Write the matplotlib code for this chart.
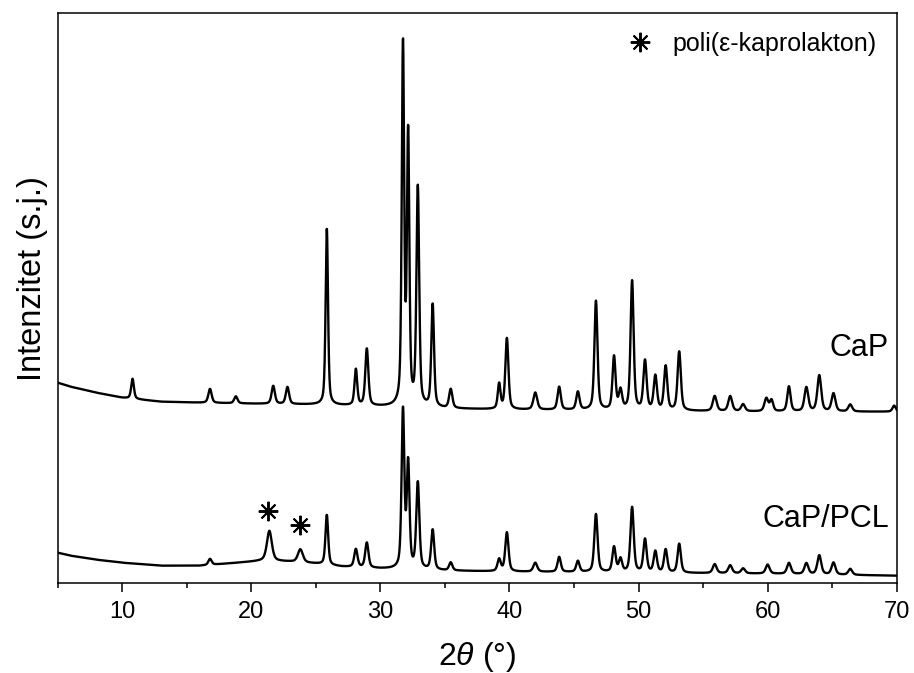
import numpy as np
import matplotlib.pyplot as plt
from matplotlib.lines import Line2D

plt.rcParams['font.family'] = ['Liberation Sans', 'DejaVu Sans']
plt.rcParams['mathtext.fontset'] = 'custom'
plt.rcParams['mathtext.rm'] = 'Liberation Sans'
plt.rcParams['mathtext.it'] = 'Liberation Sans:italic'

# --- data (intensity in arbitrary units) ---
# CaP: background points and peak list (position, height above background, FWHM)
cap_bg_x = [5, 6, 8, 10, 13, 16, 20, 25, 30, 35, 40, 50, 60, 70]
cap_bg_y = [200, 196, 190, 185, 181, 180, 179, 178, 176, 174, 173, 172, 171, 171]
cap_pos = [10.8, 16.8, 18.8, 21.7, 22.8, 25.85, 28.1, 28.95, 31.75, 32.15,
           32.9, 34.05, 35.45, 39.2, 39.8, 42.0, 43.85, 45.3, 46.7, 48.1,
           48.6, 49.5, 50.5, 51.3, 52.1, 53.15, 55.9, 57.1, 58.1, 59.9,
           60.3, 61.65, 63.0, 64.0, 65.1, 66.4, 69.8]
cap_h = [20, 14, 7, 18, 17, 177, 36, 57, 360, 268,
         218, 103, 19, 25, 71, 17, 23, 18, 109, 53,
         19, 129, 49, 34, 44, 59, 15, 15, 7, 13,
         11, 25, 24, 36, 18, 7, 6]
cap_w = [0.25, 0.3, 0.3, 0.3, 0.3, 0.22, 0.25, 0.28, 0.22, 0.22,
         0.25, 0.25, 0.3, 0.25, 0.28, 0.35, 0.3, 0.3, 0.28, 0.28,
         0.3, 0.28, 0.3, 0.3, 0.3, 0.3, 0.35, 0.35, 0.35, 0.35,
         0.3, 0.3, 0.35, 0.35, 0.35, 0.35, 0.3]

# CaP/PCL
pcl_bg_x = [5, 6, 8, 10, 13, 16, 19, 21, 23, 25, 27, 30, 35, 40, 50, 60, 70]
pcl_bg_y = [30, 27, 23, 20, 17, 17, 20, 22, 21, 19, 16, 14, 12, 11, 10, 9, 7]
pcl_pos = [16.8, 21.4, 23.8, 25.85, 28.1, 28.95, 31.75, 32.15, 32.9, 34.05,
           35.45, 39.2, 39.8, 42.0, 43.85, 45.3, 46.7, 48.1, 48.6, 49.5,
           50.5, 51.3, 52.1, 53.15, 55.9, 57.1, 58.1, 60.0, 61.65, 63.0,
           64.0, 65.1, 66.4]
pcl_h = [6, 30, 13, 50, 18, 25, 158, 104, 86, 40,
         8, 12, 39, 9, 15, 11, 58, 25, 13, 65,
         33, 21, 23, 29, 9, 8, 5, 9, 11, 11,
         19, 12, 6]
pcl_w = [0.3, 0.45, 0.45, 0.25, 0.3, 0.3, 0.25, 0.25, 0.28, 0.28,
         0.3, 0.3, 0.3, 0.35, 0.3, 0.3, 0.3, 0.3, 0.3, 0.3,
         0.3, 0.3, 0.3, 0.3, 0.35, 0.35, 0.35, 0.35, 0.35, 0.35,
         0.35, 0.35, 0.35]

# PCL reflections marked with asterisks
pcl_star_pos = [21.3, 23.8]


def pattern(x, bg_x, bg_y, pos, height, fwhm):
    y = np.interp(x, bg_x, bg_y)
    for p, h, w in zip(pos, height, fwhm):
        d = (x - p) / (w / 2)
        y = y + h * (0.5 / (1 + d**2) + 0.5 * np.exp(-np.log(2) * d**2))
    return y


two_theta = np.arange(5, 70.001, 0.02)
cap = pattern(two_theta, cap_bg_x, cap_bg_y, cap_pos, cap_h, cap_w)
cap_pcl = pattern(two_theta, pcl_bg_x, pcl_bg_y, pcl_pos, pcl_h, pcl_w)

fig = plt.figure(figsize=(9.14, 6.73), dpi=100)
ax = fig.add_axes([0.0631, 0.1342, 0.9180, 0.8469])

ax.plot(two_theta, cap, color='black', lw=1.7)
ax.plot(two_theta, cap_pcl, color='black', lw=1.7)

star = (8, 2, 0)
star_y = np.interp(pcl_star_pos, two_theta, cap_pcl) + 24
ax.plot(pcl_star_pos, star_y, ls='none', marker=star, ms=14, mew=1.4, color='black')

ax.text(69.4, 235, 'CaP', ha='right', va='center', fontsize=22)
ax.text(69.4, 64, 'CaP/PCL', ha='right', va='center', fontsize=22)

h = [Line2D([], [], ls='none', marker=star, ms=14, mew=1.4, color='black')]
ax.legend(h, ['poli(ε-kaprolakton)'], loc='upper right', bbox_to_anchor=(0.9765, 0.966),
          frameon=False, fontsize=18, borderpad=0, borderaxespad=0, handletextpad=0.8,
          handlelength=1.0)

ax.set_xlim(5, 70)
ax.set_ylim(0, 570)
ax.set_yticks([])
ax.set_xticks(range(10, 71, 10))
ax.set_xticks(range(5, 71, 10), minor=True)
ax.tick_params(axis='x', which='major', direction='out', length=6.5, width=1.1,
               labelsize=17, pad=7)
ax.tick_params(axis='x', which='minor', direction='out', length=3.5, width=1.1)
for s in ax.spines.values():
    s.set_linewidth(1.1)

ax.set_xlabel(r'2$\theta$ (°)', fontsize=23, labelpad=12)
ax.set_ylabel('Intenzitet (s.j.)', fontsize=23.5)
ax.yaxis.set_label_coords(-0.012, 0.533)

fig.savefig('out.png', dpi=100)
